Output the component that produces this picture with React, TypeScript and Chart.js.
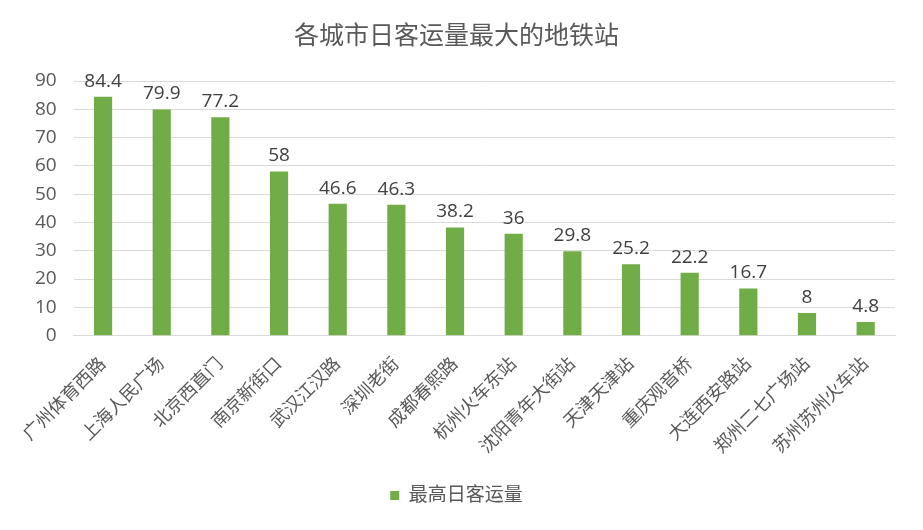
import { useEffect, useRef } from 'react';
import { Chart, registerables } from 'chart.js';

Chart.register(...registerables);

const stations = [
  '广州体育西路',
  '上海人民广场',
  '北京西直门',
  '南京新街口',
  '武汉江汉路',
  '深圳老街',
  '成都春熙路',
  '杭州火车东站',
  '沈阳青年大街站',
  '天津天津站',
  '重庆观音桥',
  '大连西安路站',
  '郑州二七广场站',
  '苏州苏州火车站',
];

const peakDaily = [84.4, 79.9, 77.2, 58, 46.6, 46.3, 38.2, 36, 29.8, 25.2, 22.2, 16.7, 8, 4.8];

const seriesName = '最高日客运量';
const chartTitle = '各城市日客运量最大的地铁站';

const FONT = "'Open Sans', 'Noto Sans CJK SC', sans-serif";
const TEXT = '#595959';
const BAR = '#70AD47';

// draws the value above each bar
const valueLabels = {
  id: 'valueLabels',
  afterDatasetsDraw(chart: Chart) {
    const { ctx } = chart;
    const meta = chart.getDatasetMeta(0);
    ctx.save();
    ctx.font = `19px ${FONT}`;
    ctx.fillStyle = '#404040';
    ctx.textAlign = 'center';
    ctx.textBaseline = 'bottom';
    meta.data.forEach((bar, i) => {
      ctx.fillText(String(peakDaily[i]), bar.x, bar.y - 6);
    });
    ctx.restore();
  },
};

export default function App() {
  const canvasRef = useRef<HTMLCanvasElement>(null);

  useEffect(() => {
    document.body.style.margin = '0';
    if (!canvasRef.current) return;

    const chart = new Chart(canvasRef.current, {
      type: 'bar',
      data: {
        labels: stations,
        datasets: [
          {
            label: seriesName,
            data: peakDaily,
            backgroundColor: BAR,
            barPercentage: 0.62,
            categoryPercentage: 0.5,
          },
        ],
      },
      options: {
        responsive: false,
        animation: false,
        layout: { padding: { left: 18, right: 28, top: 4, bottom: 15 } },
        plugins: {
          title: {
            display: true,
            text: chartTitle,
            color: TEXT,
            font: { family: FONT, size: 25, weight: 'normal' },
            padding: { top: 18, bottom: 29 },
          },
          legend: {
            display: true,
            position: 'bottom',
            labels: {
              color: TEXT,
              boxWidth: 9,
              boxHeight: 9,
              font: { family: FONT, size: 19 },
              padding: 18,
            },
          },
          tooltip: { enabled: false },
        },
        scales: {
          x: {
            grid: { display: false },
            border: { color: '#D9D9D9', width: 1 },
            ticks: {
              color: TEXT,
              font: { family: FONT, size: 18 },
              maxRotation: 45,
              minRotation: 45,
              autoSkip: false,
              padding: 10,
            },
          },
          y: {
            min: 0,
            max: 90,
            grid: { color: '#D9D9D9', lineWidth: 1, drawTicks: false },
            border: { display: false },
            ticks: {
              stepSize: 10,
              color: TEXT,
              font: { family: FONT, size: 19 },
              padding: 17,
            },
          },
        },
      },
      plugins: [valueLabels],
    });

    return () => {
      chart.destroy();
    };
  }, []);

  return (
    <div style={{ width: 923, height: 530, background: '#fff' }}>
      <canvas ref={canvasRef} width={923} height={530} />
    </div>
  );
}
